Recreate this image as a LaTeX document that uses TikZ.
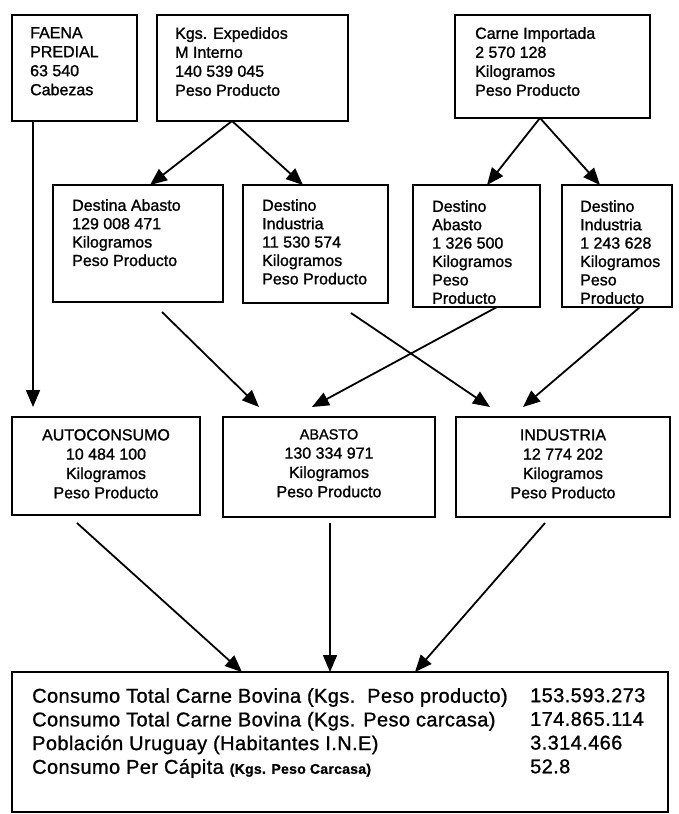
\documentclass[tikz,border=0pt]{standalone}
\usepackage{fontspec}
\setmainfont{Liberation Sans}[FakeBold=1.2]
\newfontfamily\botfont[LetterSpace=2,FakeBold=1.0]{Liberation Sans}
\usetikzlibrary{arrows.meta,calc}
\begin{document}
\begin{tikzpicture}[x=1pt,y=-1pt,
  box/.style={draw, line width=1.8pt, rectangle, inner sep=0pt, outer sep=0pt, anchor=north west},
  ltxt/.style={anchor=north west, inner sep=0pt, align=left, font=\fontsize{16}{19}\selectfont},
  mtxt/.style={anchor=north west, inner sep=0pt, align=left, font=\fontsize{16}{18.4}\selectfont},
  ctxt/.style={anchor=north, inner sep=0pt, align=center, font=\fontsize{16}{19.3}\selectfont},
  btxt/.style={anchor=north west, inner sep=0pt, align=left, font=\botfont\fontsize{20}{23.7}\selectfont},
  arr/.style={line width=1.8pt, -{Triangle[length=17pt,width=14pt]}}]
\fill[white] (0,0) rectangle (679,814);
\useasboundingbox (0,0) rectangle (679,814);
% top row
\node[box, minimum width=125pt, minimum height=106pt] (faena) at (12,15) {};
\node[ltxt] (faenaT) at (30,27) {FAENA\\PREDIAL\\63 540\\Cabezas};
\node[box, minimum width=191pt, minimum height=106pt] (kgs) at (157,15) {};
\node[ltxt] (kgsT) at (175,27) {Kgs. Expedidos\\M Interno\\140 539 045\\Peso Producto};
\node[box, minimum width=195pt, minimum height=103pt] (carne) at (455,15) {};
\node[ltxt] (carneT) at (475,27) {Carne Importada\\2 570 128\\Kilogramos\\Peso Producto};
% middle row
\node[box, minimum width=170pt, minimum height=117pt] (destA) at (53,185) {};
\node[mtxt] (destAT) at (72,199) {Destina Abasto\\129 008 471\\Kilogramos\\Peso Producto};
\node[box, minimum width=145pt, minimum height=118pt] (destI) at (243,185) {};
\node[mtxt] (destIT) at (262,199) {Destino\\Industria\\11 530 574\\Kilogramos\\Peso Producto};
\node[box, minimum width=127pt, minimum height=122pt] (destA2) at (413,185) {};
\begin{scope}
\clip (destA2.north west) rectangle ([yshift=2pt]destA2.south east);
\node[mtxt] (destA2T) at (432,200) {Destino\\Abasto\\1 326 500\\Kilogramos\\Peso\\Producto};
\end{scope}
\node[box, minimum width=110pt, minimum height=122pt] (destI2) at (562,185) {};
\begin{scope}
\clip (destI2.north west) rectangle ([yshift=2pt]destI2.south east);
\node[mtxt] (destI2T) at (580,200) {Destino\\Industria\\1 243 628\\Kilogramos\\Peso\\Producto};
\end{scope}
% third row
\node[box, minimum width=188pt, minimum height=98pt] (auto) at (12,417) {};
\node[ctxt] (autoT) at (106,429) {AUTOCONSUMO\\10 484 100\\Kilogramos\\Peso Producto};
\node[box, minimum width=212pt, minimum height=100pt] (abasto) at (223,417) {};
\node[ctxt] (abastoT) at (329,429) {{\fontsize{14.5}{19.3}\selectfont ABASTO}\\130 334 971\\Kilogramos\\Peso Producto};
\node[box, minimum width=214pt, minimum height=100pt] (indus) at (456,417) {};
\node[ctxt] (indusT) at (563,429) {INDUSTRIA\\12 774 202\\Kilogramos\\Peso Producto};
% bottom box
\node[box, minimum width=656pt, minimum height=140pt] (bot) at (12,672) {};
\node[btxt] (botL) at (32,688) {Consumo Total Carne Bovina (Kgs.\ \ Peso producto)\\Consumo Total Carne Bovina (Kgs. Peso carcasa)\\Población Uruguay (Habitantes I.N.E)\\Consumo Per Cápita {\fontsize{14}{23.7}\selectfont\bfseries (Kgs. Peso Carcasa)}};
\node[btxt] (botV) at (530,688) {153.593.273\\174.865.114\\3.314.466\\52.8};
% connectors
\draw[arr] ([xshift=-41.5pt]faena.south) -- ([xshift=-73pt,yshift=10pt]auto.north);
\draw[arr] ([xshift=-20.5pt]kgs.south) -- ([xshift=12pt]destA.north);
\draw[arr] ([xshift=-20.5pt]kgs.south) -- ([xshift=-12.5pt]destI.north);
\draw[arr] ([xshift=-12.5pt]carne.south) -- ([xshift=10.5pt]destA2.north);
\draw[arr] ([xshift=-12.5pt]carne.south) -- ([xshift=-17pt]destI2.north);
\draw[arr] ([xshift=24pt,yshift=-10pt]destA.south) -- ([xshift=-70pt,yshift=10pt]abasto.north);
\draw[arr] ([xshift=35.5pt,yshift=-10pt]destI.south) -- ([xshift=-73pt,yshift=10pt]indus.north);
\draw[arr] ([xshift=20.5pt]destA2.south) -- ([xshift=-17pt,yshift=10pt]abasto.north);
\draw[arr] ([xshift=23pt]destI2.south) -- ([xshift=-40pt,yshift=10pt]indus.north);
\draw[arr] ([xshift=-29pt,yshift=-8pt]auto.south) -- ([xshift=-98pt]bot.north);
\draw[arr] ([xshift=1pt,yshift=-6pt]abasto.south) -- ([xshift=-10pt]bot.north);
\draw[arr] ([xshift=-18pt,yshift=-6pt]indus.south) -- ([xshift=75pt]bot.north);
\end{tikzpicture}
\end{document}
